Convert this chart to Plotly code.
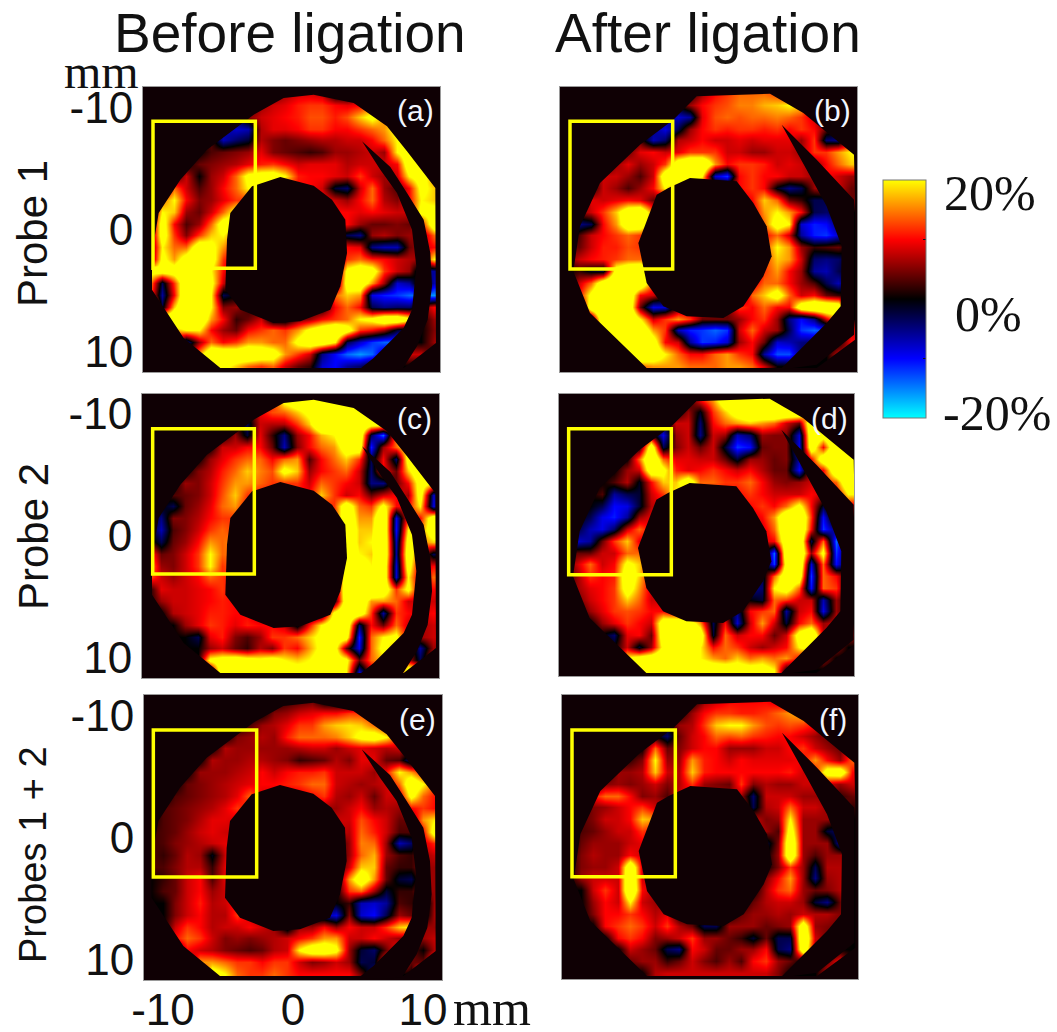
import plotly.graph_objects as go

W, H = 1057, 1032
PX_X, PX_Y = 13.0, 12.2

panel_a = [
[0,0,0,0,0,0,0,0,0,0,3,6,8,8,7,-2,-3,4,8,8,0,0,0,0],
[0,0,0,0,0,0,0,0,0,6,8,9,11,12,12,10,9,10,14,15,14,0,0,0],
[0,0,0,0,0,0,-2,-3,5,8,9,10,11,13,13,11,13,18,22,16,14,0,0,0],
[0,0,0,0,0,0,-6,-8,-7,7,9,9,10,12,12,10,10,12,14,16,22,22,0,0],
[0,0,0,0,0,3,-7,-4,-2,7,5,4,5,6,7,7,8,8,10,14,20,24,16,0],
[0,0,0,0,0,3,4,5,6,9,5,4,3,2,3,6,6,7,8,6,20,26,22,8],
[0,0,0,0,4,5,6,7,9,11,12,10,8,9,9,9,7,8,8,8,10,26,28,12],
[0,0,0,8,0,6,8,14,22,24,24,20,11,10,10,9,8,12,8,6,8,20,24,14],
[0,0,14,8,3,6,10,14,20,18,14,10,10,10,8,-2,-4,8,14,6,3,10,22,18],
[0,14,20,10,5,6,9,12,12,12,10,10,10,10,10,8,6,10,14,7,5,10,20,18],
[0,20,18,6,4,8,14,22,14,10,10,10,10,10,10,10,10,9,10,9,8,8,22,22],
[0,24,10,3,6,14,24,24,10,8,8,8,8,8,8,8,10,6,4,4,5,4,10,26],
[0,24,12,5,12,18,20,14,8,0,0,0,0,0,0,0,-3,-5,6,7,5,6,5,14],
[0,20,14,14,26,22,16,10,5,0,0,0,0,0,0,0,10,9,-5,-7,-7,4,7,10],
[0,22,16,24,30,24,12,6,0,0,0,0,0,0,0,0,12,14,11,10,8,7,6,20],
[22,24,24,30,30,20,10,3,0,0,0,0,0,0,0,0,22,26,24,12,8,6,-6,-6],
[18,-3,12,28,30,22,8,0,0,0,0,0,0,0,0,0,24,26,16,6,-8,-6,5,-7],
[15,-6,10,30,30,20,-3,0,0,0,0,0,0,0,0,14,18,16,-9,-11,-12,-14,-14,-16],
[24,-2,18,30,30,20,5,6,2,0,0,0,0,0,0,10,14,10,-3,-5,-4,-4,4,10],
[0,26,30,30,28,16,10,2,4,8,-3,-3,4,6,10,12,14,20,22,28,28,22,0,6],
[0,12,16,20,20,10,6,4,10,12,14,12,16,22,26,30,24,12,10,6,-2,-4,0,5],
[0,0,10,-6,6,14,10,12,16,16,14,14,22,26,26,20,-3,-8,-12,-14,-14,0,0,6],
[0,0,0,0,16,28,28,26,28,26,24,16,12,8,-5,-10,-14,-16,-14,-6,4,8,8,0],
[0,0,0,0,0,20,22,18,14,12,14,8,4,2,-8,-10,-6,-4,0,0,0,0,0,0],
]
panel_b = [
[0,0,0,0,0,0,0,0,0,0,0,6,10,12,14,14,14,12,6,0,0,0,0,0],
[0,0,0,0,0,0,0,0,0,0,6,10,12,13,15,15,17,18,20,18,0,0,0,0],
[0,0,0,0,0,0,0,0,-4,-8,-6,9,13,14,13,14,14,15,14,12,8,0,0,0],
[0,0,0,0,0,0,0,-5,-9,-3,6,10,12,11,12,12,11,12,10,12,10,4,0,0],
[0,0,0,0,0,0,3,-7,-4,7,8,10,8,8,9,8,9,9,9,6,12,-4,-5,8],
[0,0,0,0,0,4,9,10,8,9,12,12,12,8,8,6,6,8,8,6,12,12,16,20],
[0,0,0,0,6,9,6,8,12,26,30,30,16,10,12,12,11,8,9,8,5,10,14,18],
[0,0,0,8,8,6,3,8,26,30,28,20,-8,-12,10,12,10,10,8,8,6,10,8,6],
[0,0,0,8,6,3,6,10,20,12,8,8,6,6,10,12,10,-1,-5,-3,6,8,8,4],
[0,0,9,8,9,10,9,4,2,8,8,8,8,8,8,10,18,14,4,2,-3,-3,4,4],
[0,5,8,12,18,26,28,14,8,8,8,8,8,8,8,8,16,20,16,10,-3,-4,-2,0],
[0,-5,-3,10,16,26,26,12,8,8,8,8,8,8,8,8,14,24,20,-8,-11,-10,-4,0],
[0,3,8,10,12,14,12,10,8,0,0,0,0,0,0,0,10,14,8,-6,-11,-12,-8,0],
[4,4,8,11,11,13,12,10,8,0,0,0,0,0,0,0,12,20,16,6,2,3,4,0],
[4,8,10,11,12,14,14,12,8,0,0,0,0,0,0,0,12,18,16,8,-4,-5,-4,0],
[0,2,-1,-2,24,28,30,14,0,0,0,0,0,0,0,0,12,16,10,6,-6,-7,-3,0],
[0,8,14,26,30,30,28,12,8,0,0,0,0,0,0,8,14,14,10,6,3,-3,-7,0],
[0,10,22,30,30,28,10,8,3,0,0,0,0,0,0,14,18,24,14,8,10,4,2,0],
[0,0,26,30,30,28,4,-9,-8,3,6,8,6,4,12,10,14,10,10,26,30,30,28,0],
[0,0,0,30,30,30,20,8,12,16,12,4,4,4,6,10,12,6,-5,-10,-5,8,18,0],
[0,0,0,20,30,30,28,16,12,-7,-11,-12,-14,-12,8,14,8,6,-3,-12,-14,-12,3,8],
[0,0,0,0,30,30,30,24,10,8,-6,-12,-11,-8,6,10,4,-8,-7,-5,-4,0,0,10],
[0,0,0,0,0,24,30,26,20,14,10,10,14,16,12,10,-6,-13,-13,-4,0,0,8,6],
[0,0,0,0,0,0,14,16,16,16,14,14,14,16,16,14,8,0,0,0,0,0,6,0],
]
panel_c = [
[0,0,0,0,0,0,0,0,0,0,10,22,26,26,26,26,20,0,0,0,0,0,0,0],
[0,0,0,0,0,0,0,0,0,9,13,14,18,22,30,30,30,28,14,0,0,0,0,0],
[0,0,0,0,0,0,0,0,-3,8,7,7,12,18,30,30,30,28,24,24,0,0,0,0],
[0,0,0,0,0,0,0,6,-2,9,2,-5,6,10,17,20,28,28,-3,-14,16,26,0,0],
[0,0,0,0,0,0,8,8,10,10,4,-7,5,10,14,16,24,26,-11,6,14,22,26,0],
[0,0,0,0,0,6,9,12,14,14,10,14,16,3,10,14,18,12,-3,10,-4,24,28,6],
[0,0,0,0,5,7,11,14,18,15,13,22,18,6,10,12,14,8,-4,10,4,18,28,14],
[0,0,0,6,5,8,12,16,16,14,12,12,12,8,14,12,10,8,-5,-5,4,10,24,20],
[0,0,3,4,5,8,13,18,12,10,10,10,10,10,18,12,8,10,4,8,10,6,24,-7],
[0,0,-3,4,6,9,14,16,10,8,8,8,8,8,10,12,26,14,12,22,10,10,20,-8],
[0,-5,5,5,7,10,12,12,10,8,8,8,8,8,8,10,28,16,16,30,-9,12,10,26],
[0,-7,3,5,8,12,14,12,8,8,8,8,8,8,8,10,28,18,18,30,-10,20,14,26],
[4,-3,4,6,10,16,14,16,8,0,0,0,0,0,0,0,28,18,20,30,-7,24,14,18],
[14,4,5,8,12,20,14,15,8,0,0,0,0,0,0,0,26,20,18,30,-6,26,10,-3],
[18,6,5,8,12,20,12,14,8,0,0,0,0,0,0,0,24,24,20,28,-8,24,6,10],
[14,8,6,8,10,14,12,10,0,0,0,0,0,0,0,0,26,30,30,28,-8,20,6,14],
[0,9,8,8,9,10,12,9,5,0,0,0,0,0,0,0,28,30,30,26,12,22,6,10],
[0,6,8,8,9,10,11,10,8,0,0,0,0,0,0,0,26,28,16,16,14,8,8,8],
[0,0,7,8,9,11,11,10,10,6,0,0,0,0,-2,22,28,26,12,-6,12,10,8,10],
[0,0,0,6,9,12,11,9,11,10,10,8,-2,10,20,26,28,-4,10,4,14,8,6,8],
[0,0,0,0,-3,9,11,5,3,6,12,12,14,18,22,24,24,-11,14,20,22,8,6,8],
[0,0,0,0,0,6,8,4,2,7,5,12,10,16,22,24,4,-9,14,22,16,6,-6,6],
[0,0,0,0,0,22,24,26,24,22,24,20,18,20,24,24,22,4,14,18,4,8,-3,10],
[0,0,0,0,0,0,28,28,26,26,26,24,24,22,26,24,20,-8,6,0,0,28,28,0],
]
panel_d = [
[0,0,0,0,0,0,0,0,0,0,0,10,16,26,28,28,28,26,0,0,0,0,0,0],
[0,0,0,0,0,0,0,0,0,0,6,-1,12,18,24,28,28,30,30,30,0,0,0,0],
[0,0,0,0,0,0,0,0,0,8,8,-4,10,14,16,18,16,14,8,4,28,30,0,0],
[0,0,0,0,0,0,0,3,-9,6,8,-5,8,6,-7,-4,6,5,5,-8,28,24,30,0],
[0,0,0,0,0,0,0,26,-3,5,8,4,8,-2,-12,-10,4,5,5,-9,26,10,30,20],
[0,0,0,0,0,0,14,30,14,9,9,8,8,4,-2,6,6,4,5,-6,10,26,30,30],
[0,0,0,0,0,6,8,26,22,11,9,10,12,10,8,10,7,4,4,-10,8,10,28,30],
[0,0,0,0,3,7,-1,10,18,18,26,14,14,12,12,14,10,6,5,6,8,10,14,28],
[0,0,0,3,-6,-3,-2,8,12,20,14,10,10,10,10,12,10,8,8,8,10,8,8,20],
[0,0,0,-3,-10,-9,-2,7,9,10,10,10,10,10,10,10,12,10,14,22,10,-2,8,8],
[0,0,-3,-9,-11,-6,6,9,8,8,8,8,8,8,8,8,10,16,28,30,12,-10,6,0],
[0,-2,-7,-9,-4,8,14,9,8,8,8,8,8,8,8,8,8,14,28,30,10,-12,-4,0],
[0,-8,-6,4,12,18,9,8,8,0,0,0,0,0,0,0,8,10,26,30,-3,14,-14,0],
[0,4,4,8,8,14,14,9,8,0,0,0,0,0,0,0,6,-14,28,30,6,22,-12,0],
[3,8,14,8,10,22,18,10,8,0,0,0,0,0,0,0,4,-12,24,30,-8,14,-10,0],
[0,6,12,10,11,26,18,9,0,0,0,0,0,0,0,0,-3,14,26,26,-12,14,10,0],
[0,6,9,10,12,24,16,8,5,0,0,0,0,0,0,-6,-4,20,24,14,-10,14,12,0],
[0,4,8,10,12,18,14,8,8,0,0,0,0,0,0,0,-2,14,12,8,8,-7,6,0],
[0,0,6,9,12,13,12,10,10,6,0,0,0,0,-5,10,12,14,-6,8,10,-9,6,0],
[0,0,0,6,9,12,10,8,26,28,26,16,-3,10,-8,8,16,8,-2,10,14,6,8,0],
[0,0,0,0,-4,9,10,4,26,30,30,26,-2,14,8,10,10,4,8,24,30,8,3,6],
[0,0,0,0,0,8,-2,6,22,30,26,20,10,14,12,8,6,8,10,20,26,0,6,0],
[0,0,0,0,0,20,24,26,28,28,24,20,16,14,18,14,16,14,16,10,0,6,0,0],
[0,0,0,0,0,0,28,28,28,28,28,26,26,26,24,24,24,20,0,0,0,0,0,0],
]
panel_e = [
[0,0,0,0,0,0,0,0,0,0,0,2,3,4,-1,-2,-5,2,0,0,0,0,0,0],
[0,0,0,0,0,0,0,0,0,0,5,6,8,9,10,10,12,12,10,0,0,0,0,0],
[0,0,0,0,0,0,0,0,3,6,7,9,12,12,16,18,19,18,14,10,0,0,0,0],
[0,0,0,0,0,0,0,5,6,7,6,11,14,14,14,15,18,22,24,20,12,0,0,0],
[0,0,0,0,0,0,7,6,6,6,6,6,7,8,8,6,8,9,8,7,8,4,0,0],
[0,0,0,0,0,7,6,6,7,7,6,5,2,3,4,7,5,9,9,4,3,-6,5,0],
[0,0,0,0,6,6,6,7,8,10,8,10,11,11,12,8,8,8,6,10,20,16,10,0],
[0,0,0,4,5,6,7,8,9,10,10,11,12,14,14,8,7,6,7,8,14,26,20,12],
[0,0,3,4,5,6,7,9,14,8,8,8,8,10,12,7,6,8,4,8,8,22,14,10],
[0,3,4,5,6,7,9,12,10,8,8,8,8,8,6,6,8,10,6,7,6,10,12,10],
[0,3,4,5,7,9,9,8,8,8,8,8,8,8,8,8,8,13,10,8,4,4,16,20],
[2,3,4,6,8,9,8,8,8,8,8,8,8,8,8,8,7,14,11,8,3,3,10,26],
[2,3,5,6,7,8,9,8,8,0,0,0,0,0,0,0,6,15,14,6,-7,-4,8,12],
[3,2,4,7,6,-1,8,10,8,0,0,0,0,0,0,0,6,14,17,6,3,2,6,8],
[3,3,5,7,7,2,9,10,6,0,0,0,0,0,0,0,8,18,18,4,2,2,6,6],
[0,2,4,8,10,3,9,8,0,0,0,0,0,0,0,0,16,26,16,4,-2,-3,6,6],
[0,3,4,8,10,6,8,9,0,0,0,0,0,0,0,0,12,14,6,-2,2,2,6,6],
[0,0,5,8,11,7,8,11,5,0,0,0,0,0,0,0,2,-7,-8,-6,3,2,-5,8],
[0,0,5,8,10,7,7,12,8,6,0,0,0,-2,-6,-9,5,-8,-10,-3,6,4,-3,8],
[0,0,8,12,10,7,8,8,10,8,6,-3,6,6,10,6,10,8,8,12,18,20,6,6],
[0,0,10,14,12,8,5,6,5,6,7,8,10,12,16,16,8,8,10,8,6,4,6,8],
[0,0,0,10,8,7,5,4,3,4,7,8,20,26,26,22,6,-2,-4,4,12,4,0,8],
[0,0,0,0,16,16,14,12,12,10,12,12,8,5,6,8,6,-3,-2,14,14,4,4,16],
[0,0,0,0,0,24,20,14,12,12,14,12,10,10,10,10,10,4,-6,2,0,0,26,10],
]
panel_f = [
[0,0,0,0,0,0,0,0,0,0,0,6,8,10,10,10,10,8,6,0,0,0,0,0],
[0,0,0,0,0,0,0,0,0,0,6,10,12,12,11,11,12,14,16,18,10,0,0,0],
[0,0,0,0,0,0,0,0,0,6,7,12,18,20,20,16,13,12,13,12,10,0,0,0],
[0,0,0,0,0,0,0,0,-4,4,8,10,14,13,14,12,11,10,10,8,6,4,2,0],
[0,0,0,0,0,0,0,14,4,5,8,10,10,6,6,6,8,8,10,12,8,6,4,12],
[0,0,0,0,0,2,5,20,6,6,16,11,10,8,10,9,9,9,9,10,16,10,6,14],
[0,0,0,0,6,6,7,18,8,7,18,11,10,10,10,10,10,10,11,8,10,24,26,10],
[0,0,0,5,6,5,6,8,5,7,12,6,5,4,12,5,7,6,6,8,8,8,6,8],
[0,0,10,14,14,10,5,6,3,8,8,4,5,6,6,-4,8,8,8,6,6,6,2,4],
[0,2,5,6,8,10,12,8,8,8,8,8,8,8,8,-3,7,8,14,8,8,6,6,2],
[0,3,5,8,8,10,18,16,8,8,8,8,8,8,8,8,5,6,20,6,6,6,4,0],
[0,3,4,6,8,8,12,10,8,8,8,8,8,8,8,8,6,3,24,6,6,-2,-4,0],
[-2,4,6,6,6,8,9,8,8,0,0,0,0,0,0,0,-3,5,28,6,6,6,-7,0],
[0,5,7,6,6,10,8,8,8,0,0,0,0,0,0,0,0,6,28,6,3,6,6,0],
[0,5,6,6,8,28,8,8,8,0,0,0,0,0,0,0,0,5,12,6,-3,7,7,0],
[0,6,8,8,8,30,8,8,0,0,0,0,0,0,0,0,5,10,16,6,-5,6,7,0],
[0,0,8,12,8,30,10,6,0,0,0,0,0,0,0,0,7,12,14,6,4,5,7,0],
[0,0,6,10,8,20,8,6,6,0,0,0,0,0,0,4,7,8,8,6,-2,-5,4,0],
[0,0,5,10,10,12,10,7,9,0,0,0,0,0,4,6,6,7,6,8,7,7,5,0],
[0,0,0,10,12,14,12,8,12,7,4,-3,-3,6,6,6,4,5,6,26,6,5,4,0],
[0,0,0,0,10,12,10,5,6,8,12,6,6,4,2,-2,4,-3,-3,30,8,4,3,0],
[0,0,0,0,0,8,6,4,-3,-5,10,8,4,4,6,6,10,-3,-5,28,6,0,0,0],
[0,0,0,0,0,4,6,6,2,4,8,5,3,6,3,10,12,6,4,0,0,4,10,0],
[0,0,0,0,0,0,0,7,8,8,8,8,8,8,8,8,8,5,0,0,0,8,10,0],
]

panel_names = ["(a)", "(b)", "(c)", "(d)", "(e)", "(f)"]
panel_values = [panel_a, panel_b, panel_c, panel_d, panel_e, panel_f]
for p in panel_values:
    assert len(p) == 24 and all(len(r) == 24 for r in p)

before_outer = [(340,105),(430,55),(520,45),(640,70),(740,140),(800,215),(885,325),(887,790),(790,865),(240,865),(130,775),(35,630),(35,520),(55,400),(120,300),(200,210)]
before_hole = [(335,320),(420,292),(520,318),(575,360),(615,420),(620,520),(600,620),(570,690),(480,725),(400,730),(300,690),(255,630),(260,480),(270,400)]
before_gap = [(665,185),(750,262),(800,340),(850,420),(870,520),(875,620),(862,720),(830,800),(785,870),(650,875),(700,835),(790,745),(815,690),(828,560),(815,450),(770,340),(720,270)]
after_outer = [(440,50),(660,42),(760,100),(912,225),(915,360),(915,780),(800,865),(290,865),(120,700),(70,575),(90,440),(150,310),(270,195),(370,120)]
after_hole = [(355,325),(420,295),(560,305),(610,370),(650,440),(665,530),(640,590),(580,680),(520,715),(410,710),(340,680),(290,610),(265,490),(320,345)]
after_gap = [(695,135),(800,240),(912,360),(912,765),(800,855),(690,870),(830,730),(872,680),(875,500),(830,380),(770,270)]

frames = [(143,87,440,372),(560,87,857,372),(142,394,439,678),(559,394,854,676),(144,695,442,980),(562,695,858,979)]
origins = [(8,22),(30,22),(5,28),(28,28),(12,22),(35,22)]
boxes = [(38,125,345,566),(60,125,368,568),(37,132,342,568),(57,132,365,570),(40,127,350,568),(65,127,375,567)]

BG = "#0f0004"
scale = [[0,"#00ffff"],[0.25,"#0000ff"],[0.5,"#000000"],[0.75,"#ff0000"],[1,"#ffff00"]]

fig = go.Figure()
shapes, annotations = [], []
layout = {}

def path(points, conv):
    pts = [conv(*p) for p in points]
    return "M" + "L".join(f"{a:.3f},{b:.3f}" for a, b in pts) + "Z"

for i, (name, z) in enumerate(zip(panel_names, panel_values)):
    n = i + 1
    L, T, R, B = frames[i]
    hw, hh = (R - L) / 2 / PX_X, (B - T) / 2 / PX_Y
    xs = [-hw + (k + .5) * 2 * hw / 24 for k in range(24)]
    ys = [-hh + (k + .5) * 2 * hh / 24 for k in range(24)]
    fig.add_trace(go.Heatmap(x=xs, y=ys, z=z, coloraxis="coloraxis", zsmooth="best",
                             xaxis=f"x{n}", yaxis=f"y{n}", hoverinfo="skip"))
    left, bottom_row = (i % 2 == 0), (i == 4)
    common = dict(showgrid=False, zeroline=False, ticks="", showline=True, linecolor="#9a9a9a",
                  linewidth=1, mirror=True, tickfont=dict(family="Liberation Sans", size=44, color="#111"),
                  tickvals=[-10, 0, 10], ticktext=["-10", "0", "10"])
    layout[f"xaxis{n}"] = dict(domain=[L / W, R / W], range=[-hw, hw], anchor=f"y{n}",
                               showticklabels=bottom_row, ticklabelstandoff=-9, **common)
    layout[f"yaxis{n}"] = dict(domain=[1 - B / H, 1 - T / H], range=[hh, -hh], anchor=f"x{n}",
                               showticklabels=left, **common)
    u0, v0 = origins[i]
    def conv(u, v, u0=u0, v0=v0, L=L, R=R, T=T, B=B):
        return (((u - u0) / 3 - (R - L) / 2) / PX_X, ((v - v0) / 3 - (B - T) / 2) / PX_Y)
    outer, hole, gap = (before_outer, before_hole, before_gap) if left else (after_outer, after_hole, after_gap)
    frame_path = f"M{-hw},{-hh}L{hw},{-hh}L{hw},{hh}L{-hw},{hh}Z"
    shapes.append(dict(type="path", xref=f"x{n}", yref=f"y{n}", layer="above",
                       path=frame_path + path(outer, conv), fillcolor=BG, line_width=0))
    for poly in (hole, gap):
        shapes.append(dict(type="path", xref=f"x{n}", yref=f"y{n}", layer="above",
                           path=path(poly, conv), fillcolor=BG, line_width=0))
    bx = boxes[i]
    ax0, ay0 = conv(bx[0], bx[1])
    ax1, ay1 = conv(bx[2], bx[3])
    shapes.append(dict(type="rect", xref=f"x{n}", yref=f"y{n}", layer="above",
                       x0=ax0, x1=ax1, y0=ay0, y1=ay1, line=dict(color="#ffff00", width=3.5),
                       fillcolor="rgba(0,0,0,0)"))
    annotations.append(dict(text=name, x=(R - 25) / W, y=1 - (T + 24) / H, xref="paper", yref="paper",
                            xanchor="center", yanchor="middle", showarrow=False,
                            font=dict(family="Liberation Sans", size=30, color="#f2f6ff")))

def text(t, x, y, size, family="Liberation Sans", angle=0):
    annotations.append(dict(text=t, x=x / W, y=1 - y / H, xref="paper", yref="paper", showarrow=False,
                            xanchor="center", yanchor="middle", textangle=angle,
                            font=dict(family=family, size=size, color="#111")))

text("Before ligation", 290, 33, 55)
text("After ligation", 708, 33, 55)
text("Probe 1", 33, 234, 42, angle=-90)
text("Probe 2", 33, 537, 42, angle=-90)
text("Probes 1 + 2", 33, 855, 38, angle=-90)
text("mm", 101, 71, 48, family="Liberation Serif")
text("mm", 492, 1008, 50, family="Liberation Serif")
text("20%", 990, 193, 50, family="Liberation Serif")
text("0%", 988, 314, 50, family="Liberation Serif")
text("-20%", 997, 413, 50, family="Liberation Serif")

fig.update_layout(
    width=W, height=H, autosize=False, margin=dict(l=0, r=0, t=0, b=0, autoexpand=False),
    paper_bgcolor="white", plot_bgcolor=BG, showlegend=False,
    shapes=shapes, annotations=annotations,
    coloraxis=dict(cmin=-20, cmax=20, colorscale=scale,
                   colorbar=dict(x=883 / W, xanchor="left", y=1 - 180 / H, yanchor="top",
                                 len=238, lenmode="pixels", thickness=43, thicknessmode="pixels",
                                 xpad=0, ypad=0, outlinecolor="#777", outlinewidth=1,
                                 tickvals=[-10, 10], ticktext=["", ""], ticks="inside",
                                 ticklen=3, tickcolor="#111")),
    **layout,
)
fig.write_html("out.html", post_script="document.body.style.margin='0';",
               config={"displayModeBar": False})
